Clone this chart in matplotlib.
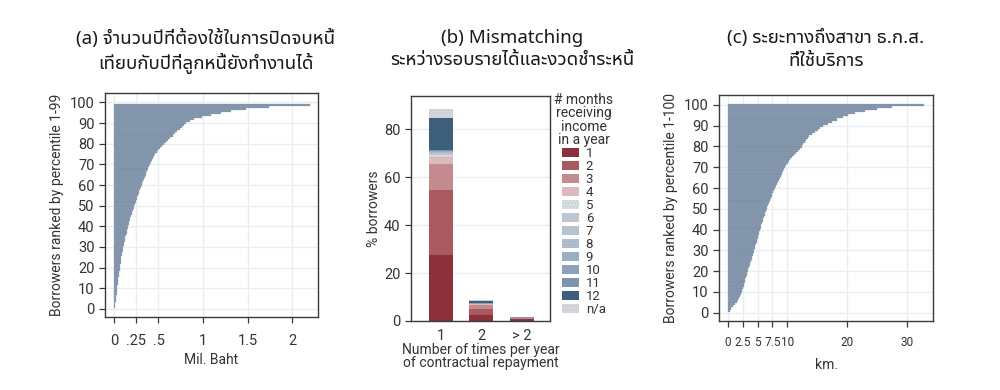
import matplotlib

matplotlib.use("Agg")
import matplotlib.pyplot as plt  # noqa: E402
from matplotlib.patches import Patch  # noqa: E402

# (a) years needed to pay off debt, by percentile 1-99 (mil. baht)
PCT_A = list(range(1, 100))
VALS_A = [
    0.008, 0.012, 0.016, 0.020, 0.024, 0.027, 0.030, 0.032, 0.035, 0.037,
    0.040, 0.042, 0.045, 0.048, 0.051, 0.054, 0.057, 0.060, 0.064, 0.067,
    0.071, 0.074, 0.078, 0.081, 0.085, 0.089, 0.093, 0.097, 0.101, 0.105,
    0.110, 0.115, 0.120, 0.125, 0.130, 0.136, 0.142, 0.148, 0.154, 0.160,
    0.166, 0.172, 0.178, 0.184, 0.190, 0.198, 0.206, 0.214, 0.222, 0.230,
    0.238, 0.246, 0.254, 0.262, 0.270, 0.278, 0.286, 0.294, 0.302, 0.310,
    0.319, 0.328, 0.337, 0.346, 0.355, 0.364, 0.373, 0.382, 0.391, 0.400,
    0.411, 0.422, 0.434, 0.447, 0.460, 0.478, 0.497, 0.517, 0.538, 0.560,
    0.584, 0.609, 0.634, 0.660, 0.688, 0.712, 0.738, 0.762, 0.784, 0.805,
    0.850, 0.900, 0.985, 1.090, 1.200, 1.310, 1.480, 1.740, 2.200,
]
XTICKS_A = [0, 0.25, 0.5, 1, 1.5, 2]
XTICKLABELS_A = ["0", ".25", ".5", "1", "1.5", "2"]

# (b) mismatching of income months vs repayment frequency
CATS_B = ["1", "2", "> 2"]
MONTHS_B = ["1", "2", "3", "4", "5", "6", "7", "8", "9", "10", "11", "12", "n/a"]
SHARES_B = [
    [27.5, 2.4, 0.8],
    [27.2, 2.8, 0.2],
    [10.8, 1.4, 0.1],
    [2.8, 0.3, 0.05],
    [0.9, 0.1, 0.0],
    [0.7, 0.1, 0.0],
    [0.4, 0.05, 0.0],
    [0.3, 0.05, 0.0],
    [0.2, 0.05, 0.0],
    [0.2, 0.05, 0.05],
    [0.3, 0.1, 0.3],
    [13.5, 1.0, 0.1],
    [3.7, 0.2, 0.0],
]
COLORS_B = [
    "#8c313b", "#a95a61", "#c38b8f", "#dcb9bc", "#d9dde1", "#bcc6cf",
    "#b3c2cf", "#a9b9c9", "#9caec1", "#8ea3b9", "#7f95ad", "#3e5f7b", "#d5d6da",
]
HATCHED_B = {"5", "6", "7", "8", "n/a"}

# (c) distance to BAAC branch, by percentile 1-100 (km)
PCT_C = list(range(1, 101))
VALS_C = [
    0.3, 0.6, 0.9, 1.2, 1.5, 1.7, 1.9, 2.05, 2.2, 2.35,
    2.45, 2.55, 2.65, 2.75, 2.85, 2.95, 3.05, 3.15, 3.25, 3.35,
    3.46, 3.57, 3.68, 3.79, 3.90, 4.01, 4.12, 4.23, 4.34, 4.46,
    4.55, 4.65, 4.74, 4.84, 4.93, 5.02, 5.12, 5.21, 5.31, 5.40,
    5.51, 5.62, 5.73, 5.84, 5.95, 6.06, 6.17, 6.28, 6.39, 6.50,
    6.64, 6.78, 6.92, 7.06, 7.20, 7.34, 7.48, 7.62, 7.76, 7.90,
    8.07, 8.24, 8.41, 8.58, 8.75, 8.92, 9.09, 9.26, 9.43, 9.60,
    9.82, 10.04, 10.26, 10.48, 10.70, 11.04, 11.38, 11.72, 12.06, 12.40,
    12.66, 12.92, 13.18, 13.44, 13.70, 14.16, 14.62, 15.08, 15.54, 16.00,
    16.8, 17.5, 18.3, 19.3, 20.2, 21.3, 23.0, 25.0, 27.6, 32.9,
]
XTICKS_C = [0, 2.5, 5, 7.5, 10, 20, 30]
XTICKLABELS_C = ["0", "2.5", "5", "7.5", "10", "20", "30"]

TITLES = [
    "(a) จำนวนปีที่ต้องใช้ในการปิดจบหนี้\nเทียบกับปีที่ลูกหนี้ยังทำงานได้",
    "(b) Mismatching\nระหว่างรอบรายได้และงวดชำระหนี้",
    "(c) ระยะทางถึงสาขา ธ.ก.ส.\nที่ใช้บริการ",
]

BAR_BLUE = "#7d91a8"
BAR_EDGE = "#9aabbd"
GRID = "#e9eef1"
SPINE = "#3a3a3a"
TEXT = "#333333"
THAI_FONT = ["Noto Sans Thai UI", "Noto Sans"]

plt.rcParams["font.family"] = ["Roboto", "DejaVu Sans"]
plt.rcParams["hatch.linewidth"] = 0.6


def style_axes(ax, xgrid=True):
    for s in ax.spines.values():
        s.set_color(SPINE)
        s.set_linewidth(1.0)
    ax.tick_params(colors=SPINE, labelcolor=TEXT, labelsize=10.5, length=4, width=0.9)
    ax.tick_params(axis="x", pad=8)
    ax.grid(axis="y", color=GRID, linewidth=1.0)
    if xgrid:
        ax.grid(axis="x", color=GRID, linewidth=1.0)
    ax.set_axisbelow(True)


fig = plt.figure(figsize=(10, 3.9), dpi=100)

# panel (a)
ax_a = fig.add_axes([0.105, 0.187, 0.213, 0.574])
ax_a.barh(PCT_A, VALS_A, height=1.0, left=0, color=BAR_BLUE,
          edgecolor=BAR_EDGE, linewidth=0.2)
ax_a.set_xlim(-0.1, 2.29)
ax_a.set_ylim(-4, 104.5)
ax_a.set_xticks(XTICKS_A)
ax_a.set_xticklabels(XTICKLABELS_A)
ax_a.set_yticks(range(0, 101, 10))
style_axes(ax_a)
ax_a.set_xlabel("Mil. Baht", fontsize=10, color=TEXT, labelpad=4)
ax_a.set_ylabel("Borrowers ranked by percentile 1-99", fontsize=10, color=TEXT, labelpad=4)

# panel (b)
ax_b = fig.add_axes([0.411, 0.177, 0.139, 0.577])
xs = list(range(len(CATS_B)))
bottoms = [0.0] * len(CATS_B)
handles = []
for label, vals, col in zip(MONTHS_B, SHARES_B, COLORS_B):
    hatch = "....." if label in HATCHED_B else None
    ax_b.bar(xs, vals, width=0.59, bottom=bottoms, color=col, linewidth=0,
             hatch=hatch, edgecolor="#c2c8cf" if hatch else col)
    bottoms = [b + v for b, v in zip(bottoms, vals)]
    handles.append(Patch(facecolor=col, hatch=hatch, linewidth=0,
                         edgecolor="#c2c8cf" if hatch else col, label=label))
ax_b.set_xlim(-0.73, 2.7)
ax_b.set_ylim(0, 94)
ax_b.set_xticks(xs)
ax_b.set_xticklabels(CATS_B)
ax_b.set_yticks([0, 20, 40, 60, 80])
style_axes(ax_b, xgrid=False)
ax_b.tick_params(axis="x", length=0, pad=6)
ax_b.set_xlabel("Number of times per year\nof contractual repayment", fontsize=10,
                color=TEXT, labelpad=0, linespacing=0.9)
ax_b.set_ylabel("% borrowers", fontsize=10, color=TEXT, labelpad=2)
leg = fig.legend(handles=handles, loc="upper left", bbox_to_anchor=(0.549, 0.775),
                 frameon=False, fontsize=9.5, labelspacing=0.0, handlelength=1.3,
                 handleheight=0.7, handletextpad=0.5, borderaxespad=0,
                 title="# months\nreceiving\nincome\nin a year", title_fontsize=10,
                 alignment="center")
leg.get_title().set_color(TEXT)
leg.get_title().set_linespacing(0.95)
leg.get_title().set_multialignment("center")
for t in leg.get_texts():
    t.set_color(TEXT)

# panel (c)
ax_c = fig.add_axes([0.719, 0.177, 0.214, 0.579])
ax_c.barh(PCT_C, VALS_C, height=1.0, left=0, color=BAR_BLUE,
          edgecolor=BAR_EDGE, linewidth=0.2)
ax_c.set_xlim(-1.46, 34.4)
ax_c.set_ylim(-4, 104.7)
ax_c.set_xticks(XTICKS_C)
ax_c.set_xticklabels(XTICKLABELS_C)
ax_c.set_yticks(range(0, 101, 10))
style_axes(ax_c)
ax_c.tick_params(axis="x", labelsize=8.5, pad=7)
ax_c.set_xlabel("km.", fontsize=10, color=TEXT, labelpad=6)
ax_c.set_ylabel("Borrowers ranked by percentile 1-100", fontsize=10, color=TEXT, labelpad=4)

# titles
for x, title in zip([0.206, 0.512, 0.826], TITLES):
    fig.text(x, 0.925, title, ha="center", va="top", fontsize=13.5, color="#1a1a1a",
             family=THAI_FONT, linespacing=1.3)

fig.savefig("out.png", dpi=100, facecolor="white")
